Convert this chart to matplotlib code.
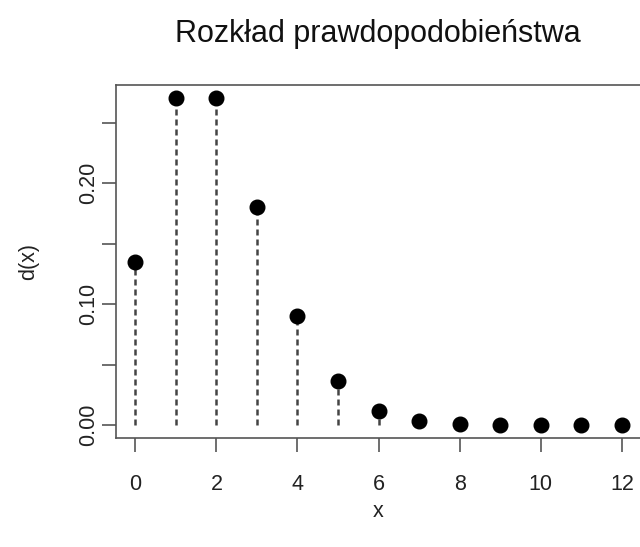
import matplotlib
matplotlib.use("Agg")
import matplotlib.pyplot as plt

# Data
x_values = [0, 1, 2, 3, 4, 5, 6, 7, 8, 9, 10, 11, 12]
d_values = [0.1353, 0.2707, 0.2707, 0.1804, 0.0902, 0.0361, 0.0120,
            0.0034, 0.0009, 0.0002, 0.00004, 0.00001, 0.000001]
x_ticks = [0, 2, 4, 6, 8, 10, 12]
y_ticks = [0.00, 0.05, 0.10, 0.15, 0.20, 0.25]
y_ticklabels = ['0.00', '', '0.10', '', '0.20', '']

plt.rcParams['font.family'] = ['Liberation Sans', 'DejaVu Sans']

fig = plt.figure(figsize=(6.4, 5.47), dpi=100)
ax = fig.add_axes([0.181, 0.199, 0.821, 0.646])

# dashed vertical lines from zero to each value
ax.vlines(x_values, 0, d_values, colors='#444444', linestyles=(0, (2.4, 1.6)), linewidth=1.8)
ax.plot(x_values, d_values, 'o', color='black', markersize=10.5)

# R-style 4% padding
xr = max(x_values) - min(x_values)
ax.set_xlim(min(x_values) - 0.04 * xr, max(x_values) + 0.04 * xr)
yr = max(d_values)
ax.set_ylim(-0.04 * yr, yr + 0.04 * yr)

ax.set_xticks(x_ticks)
ax.set_xticklabels([str(v) for v in x_ticks])
ax.set_yticks(y_ticks)
ax.set_yticklabels(y_ticklabels, rotation=90, va='center')

for s in ax.spines.values():
    s.set_color('#555555')
    s.set_linewidth(1.2)
ax.tick_params(axis='x', length=10, width=1.2, color='#555555', labelsize=15.5,
               labelcolor='#222222', pad=16)
ax.tick_params(axis='y', length=10, width=1.2, color='#555555', labelsize=15.5,
               labelcolor='#222222', pad=2)

ax.set_xlabel('x', fontsize=15.5, color='#222222', labelpad=4)
ax.set_ylabel('d(x)', fontsize=15.5, color='#222222', labelpad=28)
fig.suptitle('Rozkład prawdopodobieństwa', fontsize=22, x=0.59, y=0.965, color='#111111')

fig.savefig('out.png', dpi=100)
